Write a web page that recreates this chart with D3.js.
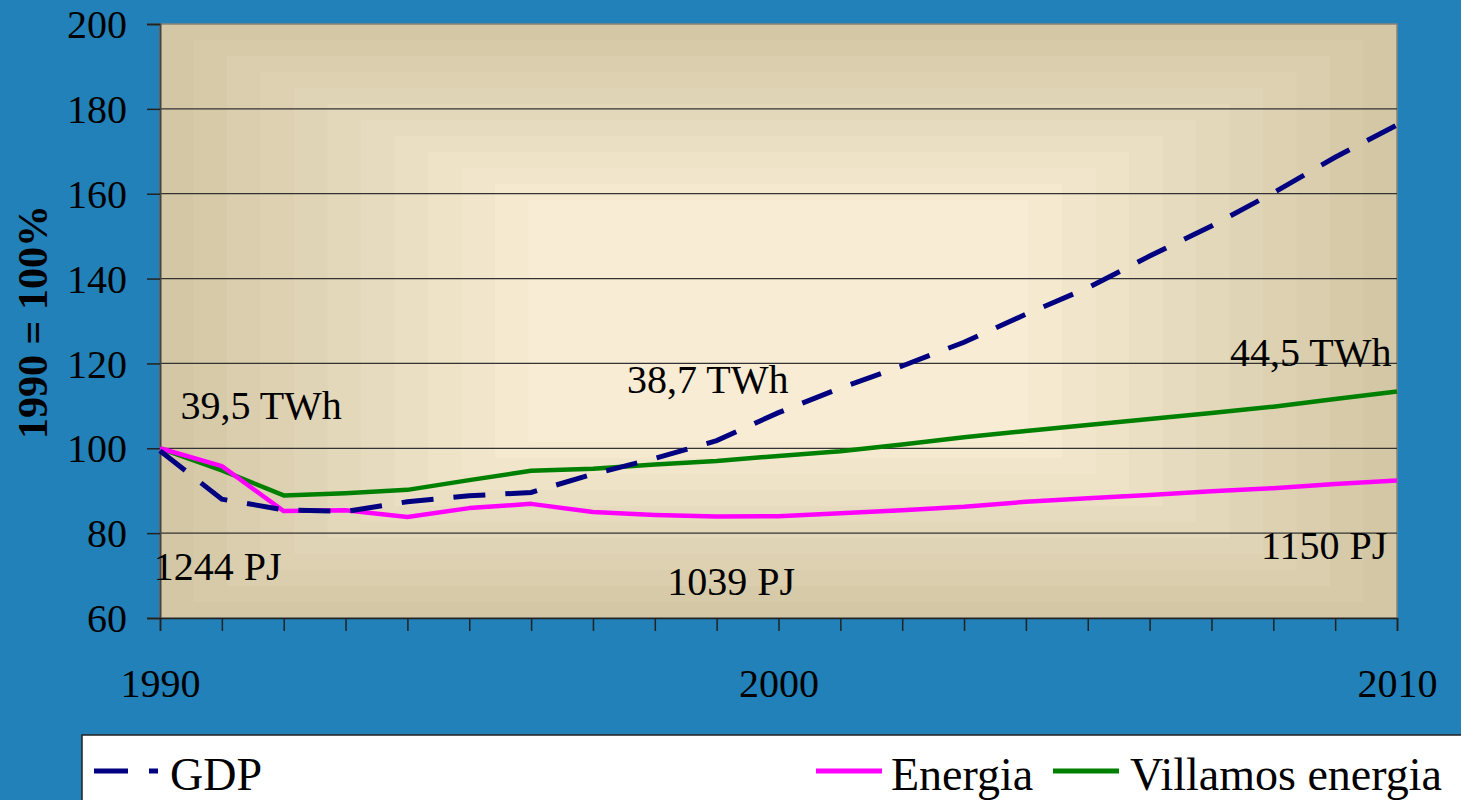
<!DOCTYPE html>
<html><head><meta charset="utf-8">
<script src="https://cdn.jsdelivr.net/npm/d3@7"></script>
<style>body{margin:0;background:#2181b8;} svg{display:block;} text{font-family:"Liberation Serif","Times New Roman",serif;}</style>
</head><body>
<svg id="c" width="1461" height="800"></svg>
<script>
const years = d3.range(1990, 2011);
const gdp = [99.4,88.0,85.5,85.1,87.4,88.8,89.6,93.9,97.6,101.8,108.4,114.2,119.4,125.0,131.6,137.8,145.3,152.4,160.2,168.6,176.2];
const energia = [100,95.8,85.2,85.4,83.8,85.9,86.9,85.0,84.3,83.9,84.0,84.7,85.4,86.2,87.4,88.2,89.0,89.9,90.6,91.6,92.4];
const villamos = [100,94.8,88.9,89.4,90.2,92.5,94.7,95.2,96.2,97.0,98.2,99.3,100.9,102.6,104.1,105.5,106.9,108.3,109.8,111.6,113.4];
const yTicks = [60,80,100,120,140,160,180,200];
const xLabels = [1990,2000,2010];
const seriesNames = ["GDP","Energia","Villamos energia"];
const annotTexts = ["39,5 TWh","38,7 TWh","44,5 TWh","1244 PJ","1039 PJ","1150 PJ"];
const annotYears = [1990.33,1997.55,2007.3,1989.9,1998.2,2007.8];
const annotValues = [107,113,119.5,69,65.5,74];
const yTitle = "1990 = 100%";

const svg = d3.select("#c");
const W=1461,H=800;
const SERIF = "'Liberation Serif','Times New Roman',serif";
svg.append("rect").attr("width",W).attr("height",H).attr("fill","#2181b8");
const L=160,R=1397,T=24,B=618;
const x = d3.scaleLinear().domain([1990,2010]).range([L,R]);
const y = d3.scaleLinear().domain([60,200]).range([B,T]);

// plot background: concentric stepped gradient
const steps=12, dx=33.5, dy=16;
const col = d3.interpolateRgb("#d3c7a5","#f8ecd4");
for(let i=0;i<steps;i++){
  svg.append("rect").attr("x",L+i*dx).attr("y",T+i*dy)
    .attr("width",(R-L)-2*i*dx).attr("height",(B-T)-2*i*dy)
    .attr("fill",col(i/(steps-1)));
}
svg.append("rect").attr("x",L).attr("y",T).attr("width",R-L).attr("height",B-T)
  .attr("fill","none").attr("stroke","#8a8478").attr("stroke-width",1.5);

// gridlines
svg.append("g").selectAll("line").data(yTicks.filter(v=>v>60&&v<200)).join("line")
  .attr("x1",L).attr("x2",R).attr("y1",d=>y(d)).attr("y2",d=>y(d))
  .attr("stroke","#333").attr("stroke-width",1.2);

// axes
const ya = svg.append("g").attr("transform",`translate(${L},0)`)
  .call(d3.axisLeft(y).tickValues(yTicks).tickSize(13).tickPadding(20).tickFormat(d3.format("d")))
  .attr("font-family",SERIF).attr("font-size",40);
ya.select(".domain").attr("stroke","#444").attr("stroke-width",2);
ya.selectAll(".tick line").attr("stroke","#222").attr("stroke-width",1.5);
ya.selectAll("text").attr("fill","#000").attr("dy","0.34em");

const xa = svg.append("g").attr("transform",`translate(0,${B})`)
  .call(d3.axisBottom(x).tickValues(years).tickSize(13).tickPadding(38)
    .tickFormat(d=>xLabels.includes(d)?String(d):""))
  .attr("font-family",SERIF).attr("font-size",40);
xa.select(".domain").attr("stroke","#222").attr("stroke-width",1.5);
xa.selectAll(".tick line").attr("stroke","#222").attr("stroke-width",1.5);
xa.selectAll("text").attr("fill","#000");

// y title
svg.append("text").attr("transform","translate(47,322) rotate(-90)")
  .attr("text-anchor","middle").attr("font-size",42).attr("font-weight","bold").text(yTitle);

// lines
const line = d3.line().x((d,i)=>x(years[i])).y(d=>y(d));
svg.append("path").datum(villamos).attr("d",line).attr("fill","none")
  .attr("stroke","#008000").attr("stroke-width",4.5).attr("stroke-linejoin","round");
svg.append("path").datum(energia).attr("d",line).attr("fill","none")
  .attr("stroke","#ff00ff").attr("stroke-width",4.5).attr("stroke-linejoin","round");
svg.append("path").datum(gdp).attr("d",line).attr("fill","none")
  .attr("stroke","#000080").attr("stroke-width",5).attr("stroke-dasharray","32,20");

// annotations
svg.append("g").selectAll("text").data(annotTexts).join("text")
  .attr("x",(d,i)=>x(annotYears[i])).attr("y",(d,i)=>y(annotValues[i]))
  .attr("font-size",40).attr("fill","#000").text(d=>d);

// legend
svg.append("rect").attr("x",82).attr("y",735).attr("width",W-82+2).attr("height",80)
  .attr("fill","#fff").attr("stroke","#222").attr("stroke-width",1.5);
const lg = svg.append("g");
const legendColors = ["#000080","#ff00ff","#008000"];
const legendX = [94,816,1053];
const legendTextX = [170,891,1130];
seriesNames.forEach((n,i)=>{
  lg.append("line").attr("x1",legendX[i]).attr("x2",i===0?158:legendX[i]+66)
    .attr("y1",771).attr("y2",771).attr("stroke",legendColors[i]).attr("stroke-width",5)
    .attr("stroke-dasharray",i===0?"34,21":null);
  lg.append("text").attr("x",legendTextX[i]).attr("y",790).attr("font-size",46).text(n);
});
</script>
</body></html>
